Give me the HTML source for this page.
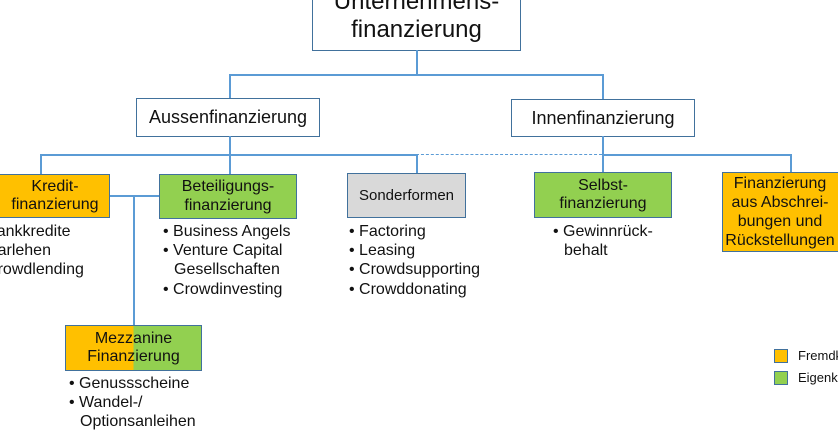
<!DOCTYPE html>
<html><head><meta charset="utf-8"><style>
body{margin:0;width:838px;height:424px;overflow:hidden;background:#fff;position:relative;font-family:"Liberation Sans",sans-serif;color:#111}
.b{position:absolute;box-sizing:border-box;border:1.5px solid #41719C;display:flex;align-items:center;justify-content:center;text-align:center;line-height:1.15}
.l{position:absolute;background:#5B9BD5}
.t{position:absolute;font-size:15px;line-height:19.2px;white-space:nowrap}
.t div{padding-left:11px;text-indent:-11px}
</style></head><body>
<div class="b" style="left:312px;top:-20px;width:209px;height:71px;font-size:24px;background:#fff">Unternehmens-<br>finanzierung</div>
<div class="l" style="left:416px;top:50px;width:1.5px;height:25px"></div>
<div class="l" style="left:229px;top:74px;width:374px;height:1.5px"></div>
<div class="l" style="left:229px;top:74px;width:1.5px;height:24px"></div>
<div class="l" style="left:602px;top:74px;width:1.5px;height:25px"></div>
<div class="b" style="left:136px;top:98px;width:184px;height:39px;font-size:18px;background:#fff">Aussenfinanzierung</div>
<div class="b" style="left:511px;top:99px;width:184px;height:38px;font-size:18px;background:#fff">Innenfinanzierung</div>
<div class="l" style="left:40px;top:154px;width:376px;height:1.5px"></div>
<div style="position:absolute;left:416px;top:154px;width:186px;border-top:1.5px dashed #5B9BD5"></div>
<div class="l" style="left:602px;top:154px;width:189px;height:1.5px"></div>
<div class="l" style="left:229px;top:136px;width:1.5px;height:38px"></div>
<div class="l" style="left:602px;top:136px;width:1.5px;height:37px"></div>
<div class="l" style="left:416px;top:154px;width:1.5px;height:19px"></div>
<div class="l" style="left:40px;top:154px;width:1.5px;height:20px"></div>
<div class="l" style="left:790px;top:154px;width:1.5px;height:19px"></div>
<div class="l" style="left:109px;top:195px;width:50px;height:1.5px"></div>
<div class="l" style="left:133px;top:195px;width:1.5px;height:130px"></div>
<div class="b" style="left:-30px;top:174px;width:140px;height:44px;font-size:16px;background:#FFC000;padding-left:30px">Kredit-<br>finanzierung</div>
<div class="b" style="left:159px;top:174px;width:138px;height:45px;font-size:16px;background:#92D050">Beteiligungs-<br>finanzierung</div>
<div class="b" style="left:347px;top:173px;width:119px;height:45px;font-size:15px;background:#D9D9D9">Sonderformen</div>
<div class="b" style="left:534px;top:172px;width:138px;height:46px;font-size:16px;background:#92D050">Selbst-<br>finanzierung</div>
<div class="b" style="left:722px;top:172px;width:130px;height:80px;font-size:16px;background:#FFC000;padding-right:14px;line-height:19px">Finanzierung<br>aus Abschrei-<br>bungen und<br>Rückstellungen</div>
<div class="b" style="left:65px;top:325px;width:137px;height:46px;font-size:16px;background:linear-gradient(90deg,#FFC000 50%,#92D050 50%)">Mezzanine<br>Finanzierung</div>
<div class="t" style="left:-24px;top:222px;font-size:16px"><div>• Bankkredite</div><div>• Darlehen</div><div>• Crowdlending</div></div>
<div class="t" style="left:163px;top:222px;font-size:16px"><div>• Business Angels</div><div>• Venture Capital<br>Gesellschaften</div><div>• Crowdinvesting</div></div>
<div class="t" style="left:349px;top:222px;font-size:16px"><div>• Factoring</div><div>• Leasing</div><div>• Crowdsupporting</div><div>• Crowddonating</div></div>
<div class="t" style="left:553px;top:222px;font-size:16px"><div>• Gewinnrück-<br>behalt</div></div>
<div class="t" style="left:69px;top:374px;font-size:16px"><div>• Genussscheine</div><div>• Wandel-/<br>Optionsanleihen</div></div>
<div style="position:absolute;left:774px;top:349px;width:14px;height:14px;box-sizing:border-box;border:1px solid #41719C;background:#FFC000"></div>
<div style="position:absolute;left:774px;top:371px;width:14px;height:14px;box-sizing:border-box;border:1px solid #41719C;background:#92D050"></div>
<div class="t" style="left:798px;top:346px;font-size:13px">Fremdkapital</div>
<div class="t" style="left:798px;top:368px;font-size:13px">Eigenkapital</div>
</body></html>
